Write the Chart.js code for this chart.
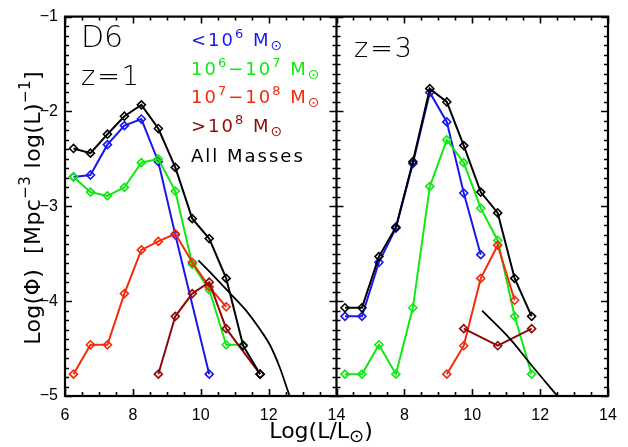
<!DOCTYPE html>
<html>
<head>
<meta charset="utf-8">
<script src="https://cdn.jsdelivr.net/npm/chart.js@4.4.1/dist/chart.umd.min.js"></script>
<style>
    html, body { margin: 0; padding: 0; background: #fff; }
    #wrap { width: 628px; height: 447px; }
</style>
</head>
<body>
<div id="wrap"><canvas id="lf" width="628" height="447"></canvas></div>
<script>
const massBins = [6.25, 6.75, 7.25, 7.75, 8.25, 8.75, 9.25, 9.75, 10.25, 10.75, 11.25, 11.75];
const xTickValues = [6, 8, 10, 12, 14];
const yTickValues = [-5, -4, -3, -2, -1];

// z = 1 panel, log(phi) per luminosity bin (null = no bin)
const z1Low = [-2.69, -2.67, -2.35, -2.15, -2.08, -2.53, -3.30, null, -4.77, null, null, null];
const z1Mid = [-2.69, -2.85, -2.89, -2.80, -2.54, -2.50, -2.84, -3.61, -3.88, -4.46, -4.46, null];
const z1High = [-4.77, -4.46, -4.46, -3.92, -3.46, -3.37, -3.29, -3.59, -3.85, -4.06, null, null];
const z1Top = [null, null, null, null, null, -4.77, -4.16, -3.92, -3.80, -4.29, null, -4.77];
const z1All = [-2.39, -2.44, -2.24, -2.05, -1.93, -2.18, -2.59, -3.13, -3.34, -3.76, -4.47, -4.77];
const z1FitX = [9.93, 10.37, 10.87, 11.36, 11.75, 12.05, 12.34, 12.57, 12.62];
const z1FitY = [-3.57, -3.73, -3.92, -4.11, -4.30, -4.47, -4.71, -4.95, -5.00];

// z = 3 panel
const z3Low = [-4.16, -4.16, -3.59, -3.23, -2.55, -1.80, -2.11, -2.86, -3.51, null, null, null];
const z3Mid = [-4.77, -4.77, -4.46, -4.77, -4.07, -2.79, -2.30, -2.54, -3.02, -3.36, -4.16, -4.77];
const z3High = [null, null, null, null, null, null, -4.77, -4.47, -3.76, -3.41, -3.99, null];
const z3Top = [null, null, null, null, null, null, null, -4.29, null, -4.47, null, -4.29];
const z3All = [-4.07, -4.07, -3.53, -3.22, -2.53, -1.76, -1.90, -2.36, -2.85, -3.07, -3.76, -4.16];
const z3FitX = [10.29, 11.12, 11.71, 12.51];
const z3FitY = [-4.10, -4.40, -4.66, -5.00];

const colors = {
    low: "#1818ee",
    mid: "#10e810",
    high: "#f52a0c",
    top: "#8e0a0a",
    all: "#000000"
};

function toPoints(xs, ys) {
    return xs
        .map((x, i) => ({ x: x, y: ys[i] }))
        .filter(p => p.y !== null);
}

function binSeries(values, color, axisId) {
    return {
        data: toPoints(massBins, values),
        xAxisID: axisId,
        borderColor: color,
        borderWidth: 2,
        pointStyle: "rectRot",
        pointRadius: 4,
        pointBorderWidth: 1.6,
        pointBorderColor: color,
        pointBackgroundColor: "rgba(255,255,255,0)",
        tension: 0
    };
}

function fitSeries(xs, ys, axisId) {
    return {
        data: toPoints(xs, ys),
        xAxisID: axisId,
        borderColor: "#000",
        borderWidth: 1.8,
        pointRadius: 0,
        cubicInterpolationMode: "monotone"
    };
}

function drawRich(ctx, parts, x, y, size, color, spacing, align) {
    const fontFor = mode =>
        (mode ? Math.round(size * (mode === "sub" ? 0.8 : 0.7)) : size) + "px 'DejaVu Sans'";
    ctx.save();
    ctx.fillStyle = color;
    ctx.textBaseline = "alphabetic";
    ctx.textAlign = "left";
    ctx.letterSpacing = spacing + "px";
    let total = 0;
    parts.forEach(([t, mode]) => {
        ctx.font = fontFor(mode);
        total += ctx.measureText(t).width;
    });
    let cx = align === "center" ? x - total / 2 : x;
    parts.forEach(([t, mode]) => {
        ctx.font = fontFor(mode);
        const dy = mode === "sup" ? -size * 0.45 : mode === "sub" ? size * 0.2 : 0;
        ctx.fillText(t, cx, y + dy);
        cx += ctx.measureText(t).width;
    });
    ctx.restore();
}

const framePlugin = {
    id: "frame",
    afterDraw(chart) {
        const ctx = chart.ctx;
        const area = chart.chartArea;
        const ys = chart.scales.y;
        const panels = [chart.scales.x1, chart.scales.x2];

        ctx.save();
        ctx.strokeStyle = "#000";
        ctx.lineCap = "butt";

        // tick marks, pointing inward on every side
        ctx.lineWidth = 1.6;
        ctx.beginPath();
        panels.forEach(p => {
            for (let k = 0; k <= 16; k++) {
                const px = Math.round(p.getPixelForValue(6 + k * 0.5)) + 0.5;
                const len = k % 4 === 0 ? 7 : 4;
                ctx.moveTo(px, area.bottom);
                ctx.lineTo(px, area.bottom - len);
                ctx.moveTo(px, area.top);
                ctx.lineTo(px, area.top + len);
            }
            for (let k = 0; k <= 40; k++) {
                const py = Math.round(ys.getPixelForValue(-5 + k * 0.1)) + 0.5;
                const len = k % 10 === 0 ? 7 : 4;
                ctx.moveTo(p.left, py);
                ctx.lineTo(p.left + len, py);
                ctx.moveTo(p.right, py);
                ctx.lineTo(p.right - len, py);
            }
        });
        ctx.stroke();

        ctx.lineWidth = 2.2;
        ctx.strokeRect(area.left, area.top, area.right - area.left, area.bottom - area.top);
        ctx.beginPath();
        ctx.moveTo(panels[0].right, area.top);
        ctx.lineTo(panels[0].right, area.bottom);
        ctx.stroke();
        ctx.restore();

        // panel labels
        ctx.save();
        ctx.fillStyle = "#000";
        ctx.font = "300 30px 'DejaVu Sans'";
        ctx.fillText("D6", 81, 47);
        ctx.font = "300 27px 'DejaVu Sans'";
        ctx.letterSpacing = "2px";
        ctx.fillText("z=1", 81, 85);
        ctx.fillText("z=3", 354, 57);
        ctx.restore();

        // legend
        drawRich(ctx, [["<10"], ["6", "sup"], [" M"], ["\u2299", "sub"]], 191, 46, 18, colors.low, 2);
        drawRich(ctx, [["10"], ["6", "sup"], ["\u221210"], ["7", "sup"], [" M"], ["\u2299", "sub"]], 191, 75, 18, colors.mid, 2);
        drawRich(ctx, [["10"], ["7", "sup"], ["\u221210"], ["8", "sup"], [" M"], ["\u2299", "sub"]], 191, 103, 18, colors.high, 2);
        drawRich(ctx, [[">10"], ["8", "sup"], [" M"], ["\u2299", "sub"]], 191, 132, 18, colors.top, 2);
        drawRich(ctx, [["All Masses"]], 191, 162, 18, colors.all, 2);

        // axis titles
        drawRich(ctx, [["Log(L/L"], ["\u2299", "sub"], [")"]], 321, 438, 22, "#000", 0, "center");
        ctx.save();
        ctx.translate(40, 208);
        ctx.rotate(-Math.PI / 2);
        drawRich(ctx, [["Log(\u03a6)  [Mpc"], ["\u22123", "sup"], [" log(L)"], ["\u22121", "sup"], ["]"]], 0, 0, 22, "#000", 0.4, "center");
        ctx.restore();
    }
};

function xAxis(hideFirst) {
    return {
        type: "linear",
        position: "bottom",
        stack: "panels",
        stackWeight: 1,
        min: 6,
        max: 14,
        afterBuildTicks(scale) {
            scale.ticks = xTickValues.map(v => ({ value: v }));
        },
        afterFit(scale) {
            scale.height = 51;
        },
        grid: { display: false, drawTicks: false },
        border: { display: false },
        ticks: {
            padding: 10,
            color: "#000",
            font: { family: "'Liberation Sans'", size: 16 },
            callback: v => (hideFirst && v === 6 ? "" : String(v))
        }
    };
}

new Chart(document.getElementById("lf"), {
    type: "line",
    data: {
        datasets: [
            fitSeries(z1FitX, z1FitY, "x1"),
            binSeries(z1All, colors.all, "x1"),
            binSeries(z1Top, colors.top, "x1"),
            binSeries(z1High, colors.high, "x1"),
            binSeries(z1Mid, colors.mid, "x1"),
            binSeries(z1Low, colors.low, "x1"),
            fitSeries(z3FitX, z3FitY, "x2"),
            binSeries(z3All, colors.all, "x2"),
            binSeries(z3Top, colors.top, "x2"),
            binSeries(z3High, colors.high, "x2"),
            binSeries(z3Mid, colors.mid, "x2"),
            binSeries(z3Low, colors.low, "x2")
        ]
    },
    options: {
        responsive: false,
        animation: false,
        devicePixelRatio: 1,
        layout: { padding: { left: 0, right: 20, top: 7, bottom: 0 } },
        plugins: {
            legend: { display: false },
            tooltip: { enabled: false }
        },
        scales: {
            x1: xAxis(false),
            x2: xAxis(true),
            y: {
                type: "linear",
                position: "left",
                min: -5,
                max: -1,
                afterBuildTicks(scale) {
                    scale.ticks = yTickValues.map(v => ({ value: v }));
                },
                afterFit(scale) {
                    scale.width = 65;
                },
                grid: { display: false, drawTicks: false },
                border: { display: false },
                ticks: {
                    padding: 7,
                    color: "#000",
                    font: { family: "'Liberation Sans'", size: 16 },
                    callback: v => "\u2212" + Math.abs(v)
                }
            }
        }
    },
    plugins: [framePlugin]
});
</script>
</body>
</html>
